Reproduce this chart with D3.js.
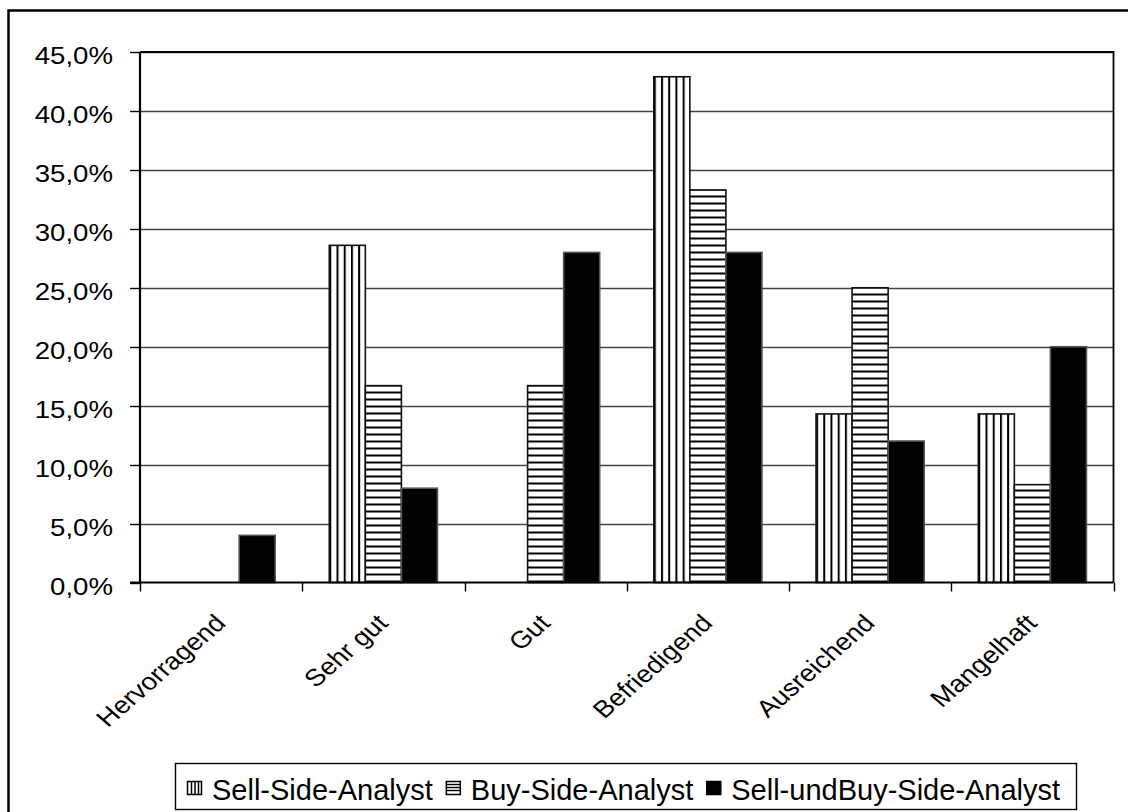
<!DOCTYPE html>
<html>
<head>
<meta charset="utf-8">
<script src="https://cdn.jsdelivr.net/npm/d3@7"></script>
<style>
  html, body { margin: 0; padding: 0; background: #fff; }
  svg { display: block; }
  text { font-family: "Liberation Sans", Arial, sans-serif; fill: #000; }
</style>
</head>
<body>
<svg id="chart" width="1128" height="812"></svg>
<script>
// Rating categories and the share of each analyst group (in %)
const categories = ["Hervorragend", "Sehr gut", "Gut", "Befriedigend", "Ausreichend", "Mangelhaft"];
const seriesNames = ["Sell-Side-Analyst", "Buy-Side-Analyst", "Sell-undBuy-Side-Analyst"];
const sellSide = [0, 28.6, 0, 42.9, 14.3, 14.3];
const buySide = [0, 16.7, 16.7, 33.3, 25.0, 8.3];
const sellAndBuy = [4.0, 8.0, 28.0, 28.0, 12.0, 20.0];
const yTicks = [0, 5, 10, 15, 20, 25, 30, 35, 40, 45];
const fills = ["vertical", "horizontal", "solid"];

const seriesValues = [sellSide, buySide, sellAndBuy];

// axis text is drawn slightly wide
const axisFont = 24, stretchX = 1.15;

const svg = d3.select("#chart");
const defs = svg.append("defs");

// Outer chart frame
svg.append("rect")
  .attr("x", 8.5).attr("y", 10.5)
  .attr("width", 1130).attr("height", 820)
  .attr("fill", "none").attr("stroke", "#000").attr("stroke-width", 2.5);

const plot = { left: 140, right: 1113.5, top: 52, bottom: 582.5 };

const x0 = d3.scaleBand().domain(categories).range([plot.left, plot.right]).paddingInner(0).paddingOuter(0);
const x1 = d3.scaleBand().domain(seriesNames).range([0, x0.bandwidth()]).paddingInner(0).paddingOuter(0.75);
const y = d3.scaleLinear().domain([0, 45]).range([plot.bottom, plot.top]);

// Gridlines
svg.append("g").selectAll("line")
  .data(yTicks.filter(t => t > 0))
  .join("line")
  .attr("x1", plot.left).attr("x2", plot.right)
  .attr("y1", d => Math.round(y(d)) + 0.5).attr("y2", d => Math.round(y(d)) + 0.5)
  .attr("stroke", "#444").attr("stroke-width", 1.4);

// Plot area border (top / right)
svg.append("path")
  .attr("d", `M${plot.left},${plot.top}H${plot.right}V${plot.bottom}`)
  .attr("fill", "none").attr("stroke", "#000").attr("stroke-width", 1.8);

// Bars
const bars = [];
categories.forEach((c, ci) => {
  seriesNames.forEach((s, si) => {
    bars.push({ cat: c, ci, series: s, si, value: seriesValues[si][ci] });
  });
});

const barGroup = svg.append("g");
bars.filter(d => d.value > 0).forEach((d, i) => {
  const bx = x0(d.cat) + x1(d.series);
  const bw = x1.bandwidth();
  const by = y(d.value);
  const bh = y(0) - by;
  let fill = "#000";
  if (fills[d.si] === "vertical") {
    const id = "pv" + i;
    const step = bw / 5;
    const p = defs.append("pattern").attr("id", id)
      .attr("patternUnits", "userSpaceOnUse")
      .attr("x", bx).attr("y", 0).attr("width", step).attr("height", 10);
    p.append("rect").attr("width", step).attr("height", 10).attr("fill", "#fff");
    p.append("rect").attr("x", 0).attr("width", 2).attr("height", 10).attr("fill", "#000");
    fill = `url(#${id})`;
  } else if (fills[d.si] === "horizontal") {
    const id = "ph" + i;
    const p = defs.append("pattern").attr("id", id)
      .attr("patternUnits", "userSpaceOnUse")
      .attr("x", 0).attr("y", plot.bottom).attr("width", 10).attr("height", 7);
    p.append("rect").attr("width", 10).attr("height", 7).attr("fill", "#fff");
    p.append("rect").attr("y", 5).attr("width", 10).attr("height", 2).attr("fill", "#000");
    fill = `url(#${id})`;
  }
  barGroup.append("rect")
    .attr("x", bx).attr("y", by)
    .attr("width", bw).attr("height", bh)
    .attr("fill", fill)
    .attr("stroke", fills[d.si] === "solid" ? "#555" : "#111")
    .attr("stroke-width", 1.6);
});

// Y axis
const yAxis = svg.append("g");
yAxis.append("line")
  .attr("x1", plot.left).attr("x2", plot.left)
  .attr("y1", plot.top).attr("y2", plot.bottom)
  .attr("stroke", "#000").attr("stroke-width", 2.2);
yAxis.selectAll("line.tick")
  .data(yTicks).join("line").attr("class", "tick")
  .attr("x1", plot.left - 10).attr("x2", plot.left)
  .attr("y1", d => Math.round(y(d)) + 0.5).attr("y2", d => Math.round(y(d)) + 0.5)
  .attr("stroke", "#000").attr("stroke-width", 1.4);
yAxis.selectAll("text")
  .data(yTicks).join("text")
  .attr("transform", d => `translate(113,${y(d)}) scale(${stretchX},1)`)
  .attr("dy", "0.5em")
  .attr("text-anchor", "end")
  .attr("font-size", axisFont)
  .text(d => d.toFixed(1).replace(".", ",") + "%");

// X axis
const xAxis = svg.append("g");
xAxis.append("line")
  .attr("x1", plot.left - 10).attr("x2", plot.right)
  .attr("y1", plot.bottom).attr("y2", plot.bottom)
  .attr("stroke", "#000").attr("stroke-width", 2.2);
const boundaries = categories.map(c => x0(c)).concat([plot.right]);
xAxis.selectAll("line.tick")
  .data(boundaries).join("line").attr("class", "tick")
  .attr("x1", d => Math.round(d) + 0.5).attr("x2", d => Math.round(d) + 0.5)
  .attr("y1", plot.bottom).attr("y2", plot.bottom + 9)
  .attr("stroke", "#000").attr("stroke-width", 1.4);
xAxis.selectAll("text")
  .data(categories).join("text")
  .attr("transform", c => `translate(${x0(c) + x0.bandwidth() / 2 + 6},${plot.bottom + 42}) scale(${stretchX},1) rotate(-45)`)
  .attr("text-anchor", "end")
  .attr("font-size", axisFont)
  .text(c => c);

// Legend
const legend = svg.append("g");
legend.append("rect")
  .attr("x", 175.5).attr("y", 763.5).attr("width", 901).attr("height", 46)
  .attr("fill", "#fff").attr("stroke", "#000").attr("stroke-width", 1.4);

const sy = 781, ss = 14, swatchGap = 11, itemGap = 13;
let cursor = 187;
seriesNames.forEach((name, si) => {
  const kind = fills[si];
  const g = legend.append("g");
  const sx = cursor;
  g.append("rect").attr("x", sx + 0.5).attr("y", sy + 0.5)
    .attr("width", ss).attr("height", ss - 1)
    .attr("fill", kind === "solid" ? "#000" : "#fff")
    .attr("stroke", "#000").attr("stroke-width", 1.5);
  if (kind === "vertical") {
    [4, 7.5, 11].forEach(o => g.append("line")
      .attr("x1", sx + 0.5 + o).attr("x2", sx + 0.5 + o)
      .attr("y1", sy + 0.5).attr("y2", sy + ss - 0.5)
      .attr("stroke", "#000").attr("stroke-width", 1.5));
  } else if (kind === "horizontal") {
    [3.5, 6.5, 9.5].forEach(o => g.append("line")
      .attr("x1", sx + 0.5).attr("x2", sx + ss + 0.5)
      .attr("y1", sy + o).attr("y2", sy + o)
      .attr("stroke", "#000").attr("stroke-width", 1.4));
  }
  const t = g.append("text").attr("x", sx + ss + swatchGap).attr("y", 800)
    .attr("font-size", 29).text(name);
  cursor = sx + ss + swatchGap + t.node().getComputedTextLength() + itemGap;
});
</script>
</body>
</html>
